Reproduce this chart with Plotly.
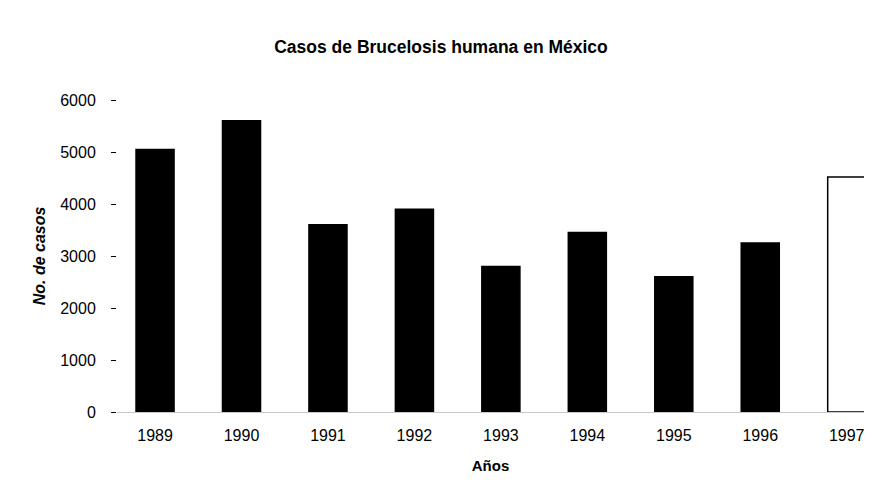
import plotly.graph_objects as go

years = ["1989", "1990", "1991", "1992", "1993", "1994", "1995", "1996", "1997"]
cases = [5050, 5600, 3600, 3900, 2800, 3450, 2600, 3250, 4520]
fill_colors = ["black"] * 8 + ["white"]
y_ticks = [0, 1000, 2000, 3000, 4000, 5000, 6000]

FONT = "Liberation Sans, Arial, sans-serif"
W, H = 858, 466  # visible page area after the 8px body margin

fig = go.Figure(go.Bar(
    x=list(range(len(years))),
    y=cases,
    width=0.44,
    marker=dict(color=fill_colors, line=dict(color="black", width=1.5)),
))

fig.update_layout(
    width=W, height=H,
    margin=dict(l=109, r=2, t=92, b=62),
    paper_bgcolor="white", plot_bgcolor="white",
    showlegend=False,
    font=dict(family=FONT, color="black", size=16),
    title=dict(text="Casos de Brucelosis humana en México",
               x=433 / W, xref="container", xanchor="center",
               y=1 - 39 / H, yref="container", yanchor="middle",
               font=dict(family=FONT, size=17.5, weight="bold", color="black")),
)

fig.update_xaxes(
    range=[-0.44, 8.2],
    tickmode="array", tickvals=list(range(len(years))), ticktext=years,
    showgrid=False, zeroline=False, showline=False, ticks="",
    ticklabelstandoff=12, ticklabeloverflow="allow",
    tickfont=dict(size=16), automargin=False,
    title=dict(text="Años", font=dict(size=15, weight="bold"), standoff=19),
)

fig.update_yaxes(
    range=[0, 6000],
    tickmode="array", tickvals=y_ticks,
    showgrid=False, showline=False,
    zeroline=True, zerolinecolor="#c8c8c8", zerolinewidth=1,
    ticks="outside", ticklen=5, tickcolor="black", tickwidth=1,
    ticklabelstandoff=12,
    tickfont=dict(size=16), automargin=False,
    title=dict(text="No. de casos", font=dict(size=16, weight="bold", style="italic"), standoff=10),
)

fig.write_html("out.html")
